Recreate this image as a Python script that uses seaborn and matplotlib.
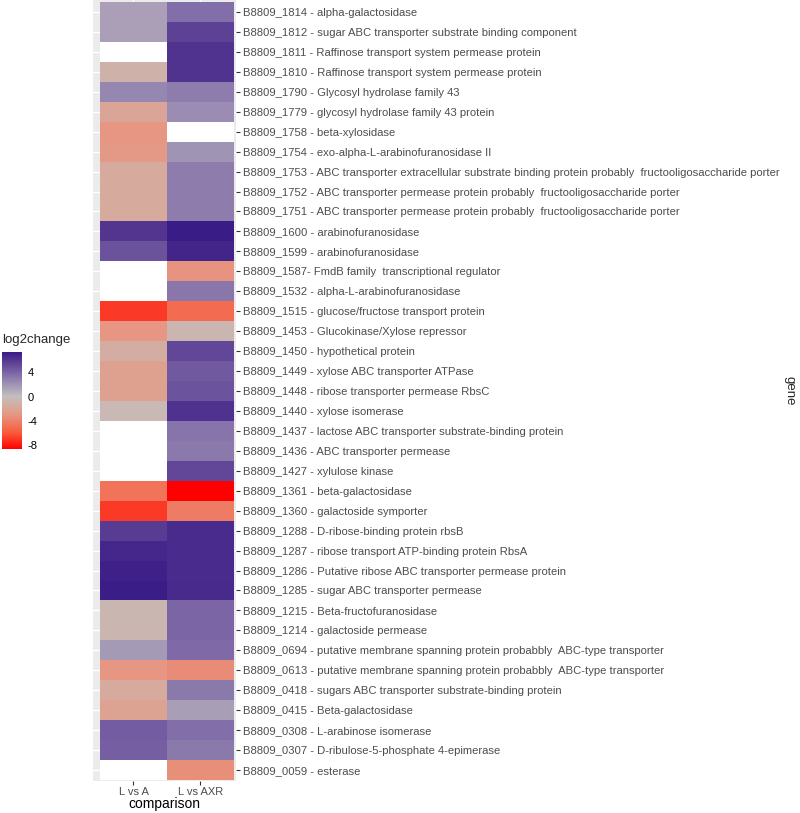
import numpy as np
import pandas as pd
import matplotlib
matplotlib.use("Agg")
import matplotlib.pyplot as plt
import seaborn as sns
from matplotlib.colors import LinearSegmentedColormap
from matplotlib.patches import Rectangle

# gene labels, top to bottom
genes = [
    "B8809_1814 - alpha-galactosidase",
    "B8809_1812 - sugar ABC transporter substrate binding component",
    "B8809_1811 - Raffinose transport system permease protein",
    "B8809_1810 - Raffinose transport system permease protein",
    "B8809_1790 - Glycosyl hydrolase family 43",
    "B8809_1779 - glycosyl hydrolase family 43 protein",
    "B8809_1758 - beta-xylosidase",
    "B8809_1754 - exo-alpha-L-arabinofuranosidase II",
    "B8809_1753 - ABC transporter extracellular substrate binding protein probably  fructooligosaccharide porter",
    "B8809_1752 - ABC transporter permease protein probably  fructooligosaccharide porter",
    "B8809_1751 - ABC transporter permease protein probably  fructooligosaccharide porter",
    "B8809_1600 - arabinofuranosidase",
    "B8809_1599 - arabinofuranosidase",
    "B8809_1587- FmdB family  transcriptional regulator",
    "B8809_1532 - alpha-L-arabinofuranosidase",
    "B8809_1515 - glucose/fructose transport protein",
    "B8809_1453 - Glucokinase/Xylose repressor",
    "B8809_1450 - hypothetical protein",
    "B8809_1449 - xylose ABC transporter ATPase",
    "B8809_1448 - ribose transporter permease RbsC",
    "B8809_1440 - xylose isomerase",
    "B8809_1437 - lactose ABC transporter substrate-binding protein",
    "B8809_1436 - ABC transporter permease",
    "B8809_1427 - xylulose kinase",
    "B8809_1361 - beta-galactosidase",
    "B8809_1360 - galactoside symporter",
    "B8809_1288 - D-ribose-binding protein rbsB",
    "B8809_1287 - ribose transport ATP-binding protein RbsA",
    "B8809_1286 - Putative ribose ABC transporter permease protein",
    "B8809_1285 - sugar ABC transporter permease",
    "B8809_1215 - Beta-fructofuranosidase",
    "B8809_1214 - galactoside permease",
    "B8809_0694 - putative membrane spanning protein probabbly  ABC-type transporter",
    "B8809_0613 - putative membrane spanning protein probabbly  ABC-type transporter",
    "B8809_0418 - sugars ABC transporter substrate-binding protein",
    "B8809_0415 - Beta-galactosidase",
    "B8809_0308 - L-arabinose isomerase",
    "B8809_0307 - D-ribulose-5-phosphate 4-epimerase",
    "B8809_0059 - esterase",
]
nan = np.nan
l_vs_a = [1.4, 1.4, nan, -1.0, 2.5, -2.0, -3.0, -2.8, -1.6, -1.6, -1.6, 6.0, 4.8,
          nan, nan, -6.8, -3.0, -1.4, -2.3, -2.3, -0.5, nan, nan, nan, -4.7, -6.9,
          5.8, 6.7, 7.1, 7.2, -0.6, -0.7, 1.7, -3.0, -1.6, -2.1, 4.3, 4.2, nan]
l_vs_axr = [3.6, 5.5, 6.2, 6.2, 3.0, 2.3, nan, 2.0, 3.0, 3.0, 3.0, 7.3, 6.8,
            -3.1, 3.2, -5.0, -0.7, 5.3, 4.5, 4.7, 6.3, 3.3, 3.1, 5.3, -8.6, -4.2,
            6.5, 6.5, 6.5, 6.6, 3.9, 3.9, 3.7, -3.5, 3.1, 1.5, 3.6, 3.1, -3.3]
comparisons = ["L vs A", "L vs AXR"]
cbar_ticks = [-8, -4, 0, 4]

df = pd.DataFrame({comparisons[0]: l_vs_a, comparisons[1]: l_vs_axr}, index=genes)

# red -> grey -> dark purple, like scale_fill_gradient2
stops = [(0.0, (255, 0, 0)), (0.151, (248, 90, 60)), (0.326, (230, 150, 130)),
         (0.413, (212, 172, 160)), (0.5, (195, 190, 190)), (0.616, (160, 148, 180)),
         (0.733, (122, 100, 165)), (0.849, (85, 55, 145)), (0.924, (58, 28, 135)),
         (1.0, (40, 10, 128))]
cmap = LinearSegmentedColormap.from_list(
    "rgp", [(p, tuple(c / 255 for c in rgb)) for p, rgb in stops])

sns.set_style("white")
plt.rcParams["font.family"] = ["Liberation Sans", "DejaVu Sans"]
plt.rcParams["axes.unicode_minus"] = False

W, H = 800, 813
fig = plt.figure(figsize=(W / 100, H / 100), dpi=100)
ax = fig.add_axes([93 / W, (H - 781) / H, 143 / W, 781 / H])
cax = fig.add_axes([2 / W, (H - 449) / H, 20 / W, 97 / H])

ax.set_facecolor("#EBEBEB")
ax.add_patch(Rectangle((0, 0), 2, len(genes), facecolor="white", edgecolor="none", zorder=0.6))

sns.heatmap(df, ax=ax, cmap=cmap, vmin=-8.6, vmax=7.3, center=0,
            cbar_ax=cax, cbar_kws={"ticks": cbar_ticks})

ax.set_xlim(-0.104, 2.03)
ax.set_ylim(len(genes) + 0.05, -0.1)
ax.set_axisbelow(True)
ax.grid(True, color="white", linewidth=1.0)
for s in ax.spines.values():
    s.set_visible(False)

ax.yaxis.tick_right()
ax.tick_params(axis="y", which="both", left=False, right=True, labelleft=False,
               labelright=True, length=3, width=0.8, color="#333333",
               labelsize=8.1, labelcolor="#4D4D4D", pad=2, rotation=0)
ax.tick_params(axis="x", bottom=True, length=3, width=0.8, color="#333333",
               labelsize=8, labelcolor="#4D4D4D", pad=1.5, rotation=0)
ax.set_ylabel("")
ax.set_xlabel("comparison", fontsize=10, color="black", labelpad=0)

cbar = ax.collections[0].colorbar
cbar.outline.set_visible(False)
cax.tick_params(left=True, right=True, labelleft=False, labelright=True,
                direction="in", color="white", length=4, width=0.8,
                labelsize=8, labelcolor="black", pad=4)

fig.text(2 / W, 1 - 340 / H, "log2change", fontsize=9.5, va="center", ha="left")
fig.text(790 / W, 1 - 391 / H, "gene", fontsize=9.5, rotation=270, va="center", ha="center")

fig.savefig("out.png", dpi=100)
